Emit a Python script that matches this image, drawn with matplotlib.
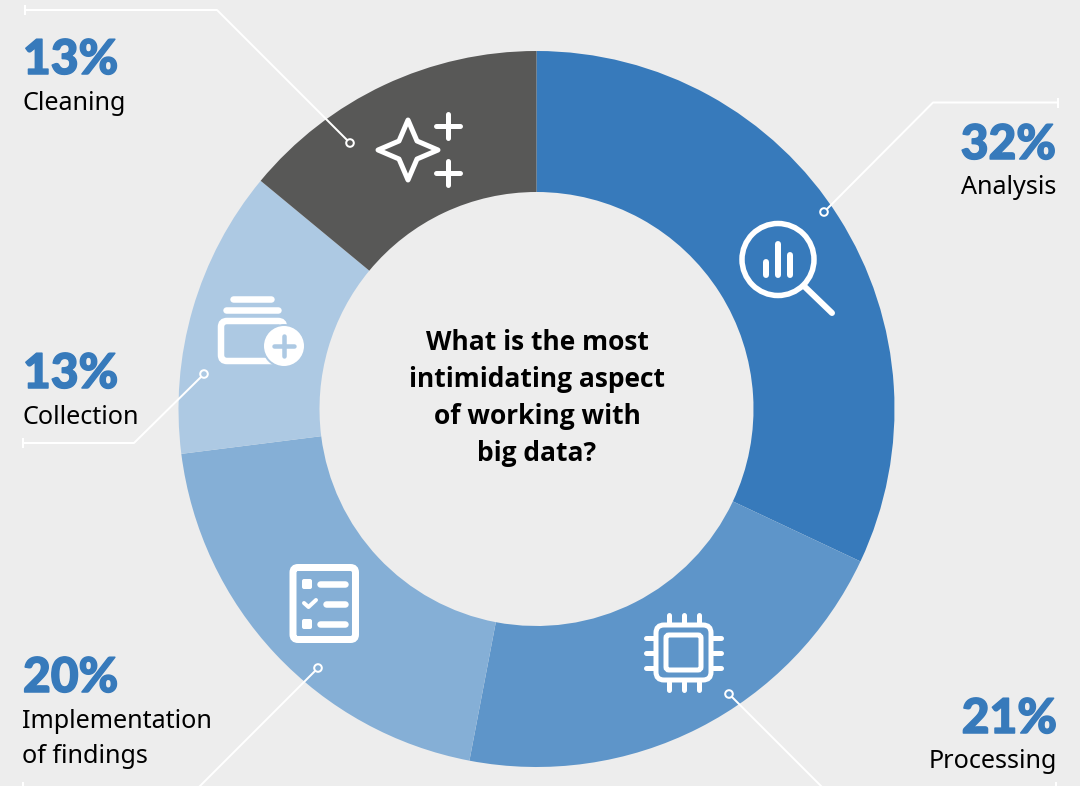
import matplotlib
matplotlib.use("Agg")
import matplotlib.pyplot as plt
import matplotlib.patheffects as pe
from matplotlib.patches import Circle, FancyBboxPatch, Polygon

# Drawn shares follow the arcs in the picture; printed labels are kept separately
categories = ["Analysis", "Processing", "Implementation\nof findings", "Collection", "Cleaning"]
shares = [32, 21, 20, 13, 14]
pct_labels = ["32%", "21%", "20%", "13%", "13%"]
colors = ["#377ABB", "#5E95C9", "#85AFD6", "#ADC9E3", "#585857"]
question = ["What is the most", "intimidating aspect", "of working with", "big data?"]

BG = "#EDEDED"
W, H = 1080, 786
PX = 0.72


def Y(y):
    return H - y


fig = plt.figure(figsize=(10.8, 7.86), dpi=100, facecolor=BG)
ax = fig.add_axes([0, 0, 1, 1])
ax.pie(shares, colors=colors, startangle=90, counterclock=False, center=(536.5, Y(409)),
       radius=358, wedgeprops=dict(width=141, linewidth=0), frame=True)
ax.set_xlim(0, W)
ax.set_ylim(0, H)
ax.set_aspect("equal")
ax.axis("off")


def line(pts, lw=5, cap="round", color="white", z=5):
    ax.plot([p[0] for p in pts], [Y(p[1]) for p in pts], color=color, lw=lw * PX,
            solid_capstyle=cap, solid_joinstyle="round", zorder=z, clip_on=True)


def rrect(x0, y0, x1, y1, r, lw=5, fc="none", ec="white", z=5):
    ax.add_patch(FancyBboxPatch((x0 + r, Y(y1) + r), x1 - x0 - 2 * r, y1 - y0 - 2 * r,
                                boxstyle=f"round,pad={r},rounding_size={r}",
                                fc=fc, ec=ec, lw=lw * PX, zorder=z))


# leader lines
leaders = [
    ([(824, 212), (933, 102.5), (1058, 102.5)], (1058, 102.5), colors[0]),
    ([(729, 694), (822, 787), (1056, 787)], (1056, 787), colors[1]),
    ([(318, 668), (199, 787), (23, 787)], (23, 787), colors[2]),
    ([(204, 374), (134, 443), (23, 443)], (23, 443), colors[3]),
    ([(350, 143), (217, 10), (25, 10)], (25, 10), colors[4]),
]
for pts, tick, col in leaders:
    line(pts, lw=2, cap="butt", z=4)
    line([(tick[0], tick[1] - 5), (tick[0], tick[1] + 5)], lw=2, cap="butt", z=4)
    ax.add_patch(Circle((pts[0][0], Y(pts[0][1])), 3.8, fc=col, ec="white", lw=2 * PX, zorder=6))

# percentages and labels
PCT_FONT = dict(family="Lato", weight="black", color="#377ABB", fontsize=34.5)
LAB_FONT = dict(family="Noto Sans", color="black", fontsize=18.1)
text_pos = [
    (1056, 159, 194, "right"),
    (1057, 733, 768, "right"),
    (23, 692, 728, "left"),
    (23, 388, 424, "left"),
    (23, 74, 110, "left"),
]
for pct, cat, (x, yp, yl, ha) in zip(pct_labels, categories, text_pos):
    ax.text(x, Y(yp), pct, ha=ha, va="baseline",
            path_effects=[pe.withStroke(linewidth=1.1, foreground="#377ABB")], **PCT_FONT)
    for i, part in enumerate(cat.split("\n")):
        ax.text(x + (0 if ha == "right" else -1), Y(yl + i * 35), part, ha=ha, va="baseline", **LAB_FONT)

# centre question
for i, t in enumerate(question):
    ax.text(537, Y(350 + i * 37), t, ha="center", va="baseline", family="Open Sans",
            weight="bold", fontsize=19, color="black")

# magnifier icon
ax.add_patch(Circle((778, Y(259.5)), 36, fc="none", ec="white", lw=5.5 * PX, zorder=5))
line([(805, 287), (832, 313)], lw=6)
for bx, top in [(766, 262), (778, 244), (789.7, 255)]:
    line([(bx, top), (bx, 275)], lw=6)

# chip icon
rrect(656, 625, 711, 680, 8)
rrect(666, 635, 701, 670, 3)
for c in (669, 684, 699):
    line([(c, 615), (c, 623)], lw=5)
    line([(c, 682), (c, 690)], lw=5)
for c in (638, 653, 668):
    line([(646, c), (654, c)], lw=5)
    line([(713, c), (721, c)], lw=5)

# checklist icon
rrect(293, 567.5, 355.5, 639.5, 5, lw=7)
rrect(302, 579, 312, 589, 2, lw=0, fc="white", ec="none")
rrect(302, 619, 312, 629, 2, lw=0, fc="white", ec="none")
for x0, yy in [(320, 584), (326, 604), (320, 624)]:
    line([(x0, yy), (345, yy)], lw=6.5)
line([(304, 603), (308.5, 607), (316, 600)], lw=4)

# collection icon
line([(233, 299), (271, 299)], lw=6.5)
line([(226, 310), (278, 310)], lw=6.5)
rrect(221, 321, 284, 361, 6, lw=6.5)
ax.add_patch(Circle((284, Y(346)), 21, fc="white", ec=colors[3], lw=2 * PX, zorder=6))
line([(274, 346), (294, 346)], lw=4.5, color=colors[3], z=7)
line([(284, 336), (284, 356)], lw=4.5, color=colors[3], z=7)

# sparkle icon
cx, cy = 408, 150
o, n = 30, 9
star = [(cx, cy - o), (cx + n, cy - n), (cx + o, cy), (cx + n, cy + n),
        (cx, cy + o), (cx - n, cy + n), (cx - o, cy), (cx - n, cy - n)]
ax.add_patch(Polygon([(a, Y(b)) for a, b in star], closed=True, fc="none", ec="white",
                     lw=5 * PX, joinstyle="round", zorder=5))
for py in (126, 173):
    line([(436, py), (460, py)], lw=5)
    line([(448, py - 12), (448, py + 12)], lw=5)

fig.savefig("out.png", dpi=100, facecolor=BG)
